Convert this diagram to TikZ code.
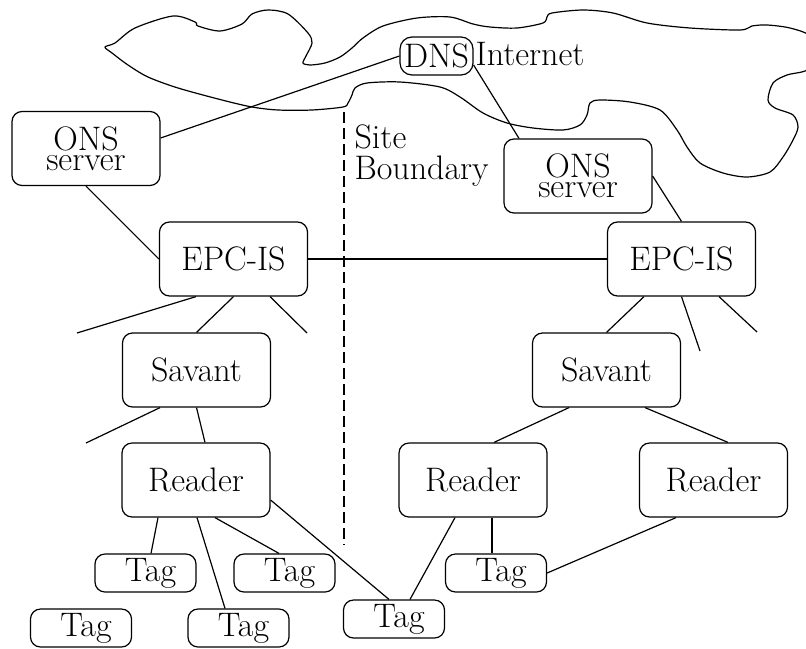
\documentclass[tikz,border=0pt]{standalone}
\begin{document}
\begin{tikzpicture}[x=0.5pt,y=-0.5pt,line width=0.6pt,
  every node/.style={font=\fontsize{17}{17}\selectfont},
  box/.style={draw,rounded corners=5pt,inner sep=0pt,minimum width=74pt,minimum height=37pt},
  tagbox/.style={draw,rounded corners=5pt,inner sep=0pt,minimum width=50.5pt,minimum height=19pt}]
\useasboundingbox (0,0) rectangle (806,648);

% Internet cloud
\begin{scope}
\clip (0,0) rectangle (806,648);
\draw plot[smooth cycle,tension=0.5] coordinates {
  (105,47) (115,43) (135,28) (173,16) (195,22) (198,26) (220,31)
  (242,24) (252,14) (268,10) (288,14) (308,33) (312,43) (306,56) (303,63)
  (310,65) (325,63) (340,57) (352,48) (363,38) (383,26) (417,18) (450,17) (473,24)
  (490,27) (517,28) (543,23) (547,17) (552,13) (583,10) (613,13) (647,23)
  (690,28) (740,30) (752,26) (767,25) (790,28) (810,36) (815,55) (807,70)
  (787,75) (773,83) (768,100) (775,108) (793,115) (798,127) (793,140)
  (783,157) (770,172) (747,177) (723,173) (700,163) (687,147) (677,130)
  (660,110) (630,102) (600,100) (590,103) (587,115) (580,125) (563,130)
  (533,128) (507,123) (483,113) (460,97) (440,87) (400,82) (367,83)
  (355,88) (352,95) (348,103) (343,107) (312,110) (278,110) (252,107)
  (222,100) (178,88) (148,77) (128,65) (112,53)};
\end{scope}

% Nodes
\node[draw,rounded corners=6pt,inner sep=0pt,minimum width=36.5pt,minimum height=19pt] (dns) at (436.5,56) {DNS};
\node[inner sep=0pt,anchor=base west] (inet) at (475,65) {Internet};

\node[box,align=center] (onsL) at (86,148.5) {ONS\\[-7pt]server};
\node[box,align=center] (onsR) at (578,176) {ONS\\[-7pt]server};

\node[box] (epcL) at (233.5,259) {EPC-IS};
\node[box] (epcR) at (681.5,259) {EPC-IS};
\node[box] (savL) at (196.5,370) {Savant};
\node[box] (savR) at (606.5,370) {Savant};
\node[box] (rdL) at (196,480) {Reader};
\node[box] (rdM) at (473,480) {Reader};
\node[box] (rdR) at (713.5,480) {Reader};

\node[tagbox] (tA) at (145.5,573) {\kern5pt Tag};
\node[tagbox] (tB) at (284.5,573) {\kern5pt Tag};
\node[tagbox] (tC) at (496,573) {\kern5pt Tag};
\node[tagbox] (tD) at (81,628) {\kern5pt Tag};
\node[tagbox] (tE) at (238.5,628) {\kern5pt Tag};
\node[tagbox] (tF) at (394,619) {\kern5pt Tag};

\node[inner sep=0pt,anchor=base west] (site) at (354,148) {Site};
\node[inner sep=0pt,anchor=base west] (bound) at (354,179) {Boundary};

% Site boundary
\coordinate (sbTop) at (344,112);
\coordinate (sbBot) at (344,545);
\draw[dash pattern=on 5.5pt off 2.5pt] (sbTop) -- (sbBot);

% Loose ends
\coordinate (e1) at (77,333);
\coordinate (e2) at (307,333);
\coordinate (e3) at (86,443);
\coordinate (e4) at (700,351);
\coordinate (e5) at (757,332);

% Connectors
\draw ([yshift=5.25pt]onsL.east) -- (dns.west);
\draw ([yshift=-4.5pt]dns.east) -- ([xshift=-29.5pt]onsR.north);
\draw (onsL.south) -- (epcL.west);
\draw (epcL.east) -- (epcR.west);
\draw (onsR.east) -- (epcR.north);
\draw ([xshift=-18.75pt]epcL.south) -- (e1);
\draw (epcL.south) -- (savL.north);
\draw ([xshift=18.25pt]epcL.south) -- (e2);
\draw ([xshift=-18.25pt]savL.south) -- (e3);
\draw (savL.south) -- ([xshift=4.5pt]rdL.north);
\draw ([xshift=-18.75pt]epcR.south) -- (savR.north);
\draw (epcR.south) -- (e4);
\draw ([xshift=18.75pt]epcR.south) -- (e5);
\draw ([xshift=-18.75pt]savR.south) -- ([xshift=10.5pt]rdM.north);
\draw ([xshift=19.25pt]savR.south) -- ([xshift=7.25pt]rdR.north);
\draw ([xshift=-19pt]rdL.south) -- ([xshift=2.75pt]tA.north);
\draw ([xshift=0.5pt]rdL.south) -- ([xshift=-6.75pt]tE.north);
\draw ([xshift=9.5pt]rdL.south) -- ([xshift=-2.75pt]tB.north);
\draw ([yshift=-10pt]rdL.east) -- ([xshift=-2.5pt]tF.north);
\draw ([xshift=-9pt]rdM.south) -- ([xshift=8pt]tF.north);
\draw ([xshift=9.5pt]rdM.south) -- ([xshift=-2pt]tC.north);
\draw ([xshift=-18.75pt]rdR.south) -- (tC.east);
\end{tikzpicture}
\end{document}
